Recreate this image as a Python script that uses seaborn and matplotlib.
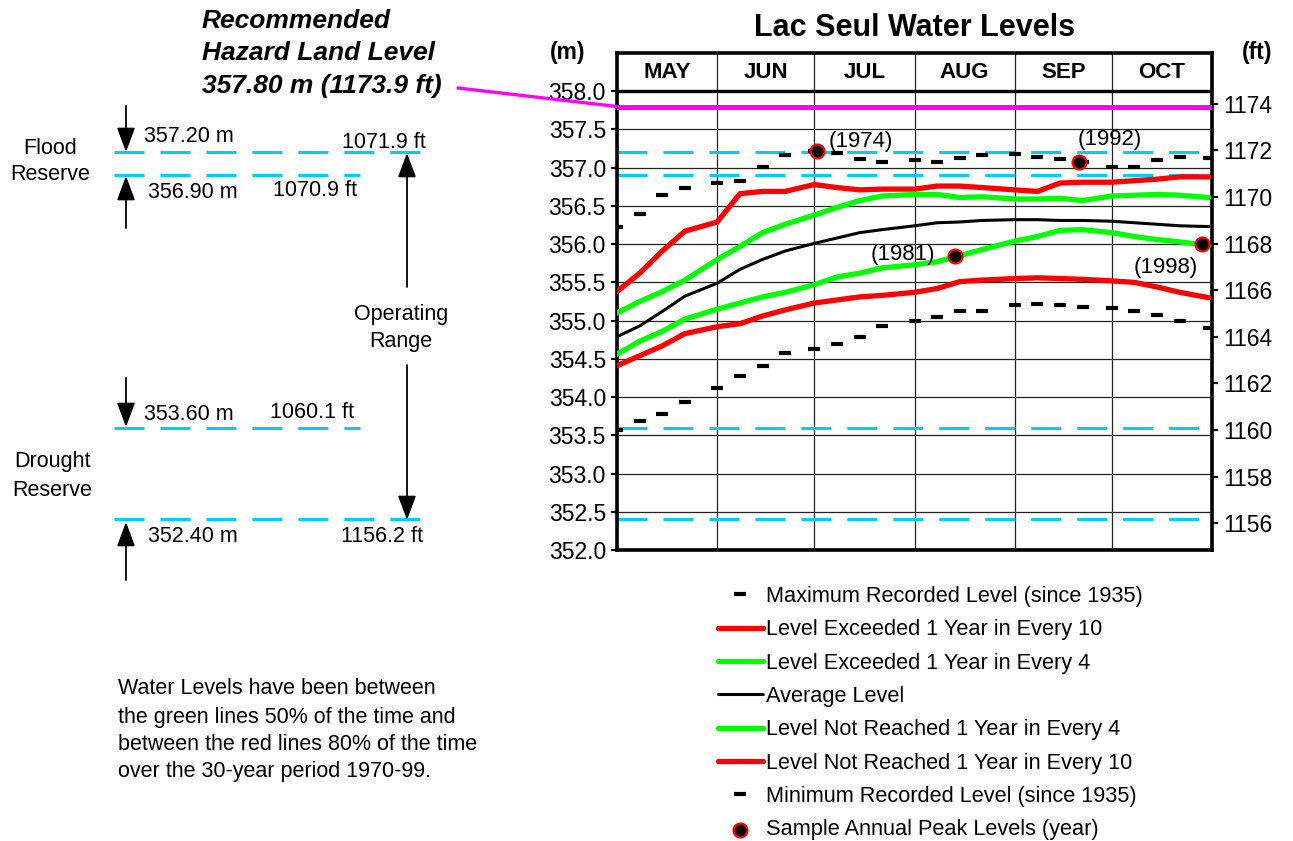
import numpy as np
import pandas as pd
import matplotlib
matplotlib.use("Agg")
import matplotlib.pyplot as plt
import matplotlib.transforms as mtransforms
import seaborn as sns

sns.set_theme(style="white")
plt.rcParams['font.family'] = ['Liberation Sans', 'DejaVu Sans']
plt.rcParams['lines.scale_dashes'] = False
plt.rcParams['text.color'] = 'black'
plt.rcParams['xtick.color'] = 'black'
plt.rcParams['ytick.color'] = 'black'

# ---- data (levels in metres, x = days after May 1) ----
months = ['MAY', 'JUN', 'JUL', 'AUG', 'SEP', 'OCT']
month_starts = [0, 31, 61, 92, 123, 153, 184]
days = [0, 7, 14, 21, 31, 38, 45, 52, 61, 68, 75, 82, 92, 99, 106, 113,
        123, 130, 137, 144, 153, 160, 167, 174, 183]

max_level = [356.23, 356.40, 356.64, 356.73, 356.80, 356.82, 357.01, 357.16,
             357.22, 357.19, 357.11, 357.07, 357.10, 357.07, 357.13, 357.16,
             357.18, 357.14, 357.12, 357.07, 357.01, 357.01, 357.10, 357.14, 357.13]
exceed_10 = [355.38, 355.62, 355.91, 356.17, 356.29, 356.66, 356.69, 356.69,
             356.78, 356.74, 356.71, 356.72, 356.72, 356.76, 356.76, 356.74,
             356.71, 356.69, 356.80, 356.81, 356.81, 356.83, 356.85, 356.88, 356.88]
exceed_4 = [355.10, 355.25, 355.38, 355.53, 355.80, 355.97, 356.15, 356.26,
            356.38, 356.48, 356.57, 356.63, 356.65, 356.65, 356.61, 356.62,
            356.59, 356.59, 356.60, 356.57, 356.63, 356.64, 356.65, 356.64, 356.61]
average = [354.79, 354.93, 355.12, 355.32, 355.49, 355.67, 355.80, 355.91,
           356.01, 356.08, 356.15, 356.19, 356.24, 356.28, 356.29, 356.31,
           356.32, 356.32, 356.31, 356.31, 356.30, 356.28, 356.26, 356.24, 356.23]
not_reached_4 = [354.56, 354.73, 354.86, 355.02, 355.15, 355.23, 355.31, 355.37,
                 355.47, 355.57, 355.62, 355.69, 355.73, 355.77, 355.85, 355.93,
                 356.04, 356.10, 356.18, 356.19, 356.15, 356.10, 356.06, 356.03, 355.98]
not_reached_10 = [354.41, 354.54, 354.67, 354.83, 354.92, 354.96, 355.06, 355.14,
                  355.23, 355.27, 355.31, 355.33, 355.37, 355.42, 355.51, 355.53,
                  355.55, 355.56, 355.55, 355.54, 355.52, 355.50, 355.44, 355.37, 355.30]
min_level = [353.57, 353.69, 353.78, 353.93, 354.12, 354.27, 354.40, 354.57,
             354.63, 354.70, 354.78, 354.93, 355.00, 355.05, 355.12, 355.13,
             355.20, 355.22, 355.21, 355.18, 355.16, 355.12, 355.07, 355.00, 354.90]

peak_days = [62, 104.5, 143, 181]
peak_levels = [357.22, 355.84, 357.07, 356.00]
peak_years = ['(1974)', '(1981)', '(1992)', '(1998)']

hazard_level = 357.80
reserve_levels = [357.20, 356.90, 353.60, 352.40]

df = pd.DataFrame({'day': days, 'max': max_level, 'exc10': exceed_10,
                   'exc4': exceed_4, 'avg': average, 'nr4': not_reached_4,
                   'nr10': not_reached_10, 'min': min_level})

RED, GREEN, CYAN, MAGENTA = '#FF0000', '#00FF00', '#00CCFF', '#FF00FF'
DASH = (0, (21.6, 11.5))
FS = 15.5

W, H = 1293, 841
fig = plt.figure(figsize=(W / 100, H / 100), dpi=100)
ax = fig.add_axes([617 / W, 1 - 550 / H, 595 / W, 497 / H])

# reference levels
ax.axhline(hazard_level, color=MAGENTA, lw=3.6, zorder=3)
for lvl in reserve_levels:
    ax.axhline(lvl, color=CYAN, lw=2.2, ls=DASH, zorder=2)

# series
handles = []
sns.lineplot(data=df, x='day', y='max', ax=ax, linestyle='', marker='_',
             markersize=9, markeredgewidth=3, markeredgecolor='black', color='black', zorder=4)
handles.append(ax.lines[-1])
for col, colr, lw in [('exc10', RED, 3.8), ('exc4', GREEN, 3.8), ('avg', 'black', 2.2),
                      ('nr4', GREEN, 3.8), ('nr10', RED, 3.8)]:
    sns.lineplot(data=df, x='day', y=col, ax=ax, color=colr, lw=lw, zorder=4)
    handles.append(ax.lines[-1])
sns.lineplot(data=df, x='day', y='min', ax=ax, linestyle='', marker='_',
             markersize=9, markeredgewidth=3, markeredgecolor='black', color='black', zorder=4)
handles.append(ax.lines[-1])
sns.scatterplot(x=peak_days, y=peak_levels, ax=ax, color='black', edgecolor=RED,
                linewidth=1.6, s=100, zorder=6)
handles.append(ax.collections[-1])

offsets = [((8, 6.5), 'left'), ((-14, 1), 'right'), ((-1, 16.5), 'left'), ((-3, -16.5), 'right')]
for d, v, yr, (off, ha) in zip(peak_days, peak_levels, peak_years, offsets):
    ax.annotate(yr, xy=(d, v), xytext=off, textcoords='offset points',
                ha=ha, va='center', fontsize=16, zorder=7)

# axes styling
ax.set_xlim(0, 184)
ax.set_ylim(352, 358.5)
ax.set_xticks(month_starts)
ax.set_xticklabels([])
yt = np.arange(352, 358.01, 0.5)
ax.set_yticks(yt)
ax.set_yticklabels([f'{v:.1f}' for v in yt])
ax.grid(True, color='#222222', lw=0.9)
ax.set_axisbelow(True)
ax.tick_params(axis='x', length=0)
ax.tick_params(axis='y', left=True, direction='out', length=4, width=1.5,
               labelsize=16.5, pad=4)
ax.set_xlabel('')
ax.set_ylabel('')
for s in ax.spines.values():
    s.set_linewidth(2.6)
    s.set_color('black')
ax.axhline(358, color='black', lw=2.4, zorder=3)
for i, m in enumerate(months):
    ax.text((month_starts[i] + month_starts[i + 1]) / 2, 358.25, m, ha='center',
            va='center', fontsize=16, fontweight='bold')
ax.set_title('Lac Seul Water Levels', fontsize=22, fontweight='bold', pad=12)

ax2 = ax.twinx()
ax2.set_ylim(352 / 0.3048, 358.5 / 0.3048)
ax2.set_yticks(range(1156, 1175, 2))
ax2.grid(False)
ax2.tick_params(axis='y', right=True, direction='out', length=4, width=1.5,
                labelsize=16.5, pad=4)
for s in ax2.spines.values():
    s.set_visible(False)

fig.text(568 / W, 1 - 53 / H, '(m)', ha='center', va='center', fontsize=16.5, fontweight='bold')
fig.text(1257 / W, 1 - 53 / H, '(ft)', ha='center', va='center', fontsize=16.5, fontweight='bold')

labels = ['Maximum Recorded Level (since 1935)', 'Level Exceeded 1 Year in Every 10',
          'Level Exceeded 1 Year in Every 4', 'Average Level',
          'Level Not Reached 1 Year in Every 4', 'Level Not Reached 1 Year in Every 10',
          'Minimum Recorded Level (since 1935)', 'Sample Annual Peak Levels (year)']
ax.legend(handles, labels, loc='upper left', bbox_to_anchor=(718 / W, 1 - 586 / H),
          bbox_transform=fig.transFigure, frameon=False, fontsize=15.7,
          handlelength=2.05, handletextpad=0.15, labelspacing=0.565,
          borderpad=0, borderaxespad=0)

# ---- left-hand explanatory diagram ----
blend = mtransforms.blended_transform_factory(fig.transFigure, ax.transData)
for lvl, x_end in zip(reserve_levels, [422, 360, 360, 422]):
    ax.plot([114 / W, x_end / W], [lvl, lvl], transform=blend, clip_on=False,
            color=CYAN, lw=2.2, ls=DASH)

ax.annotate('', xy=(0, hazard_level), xycoords='data', xytext=(458, H - 88),
            textcoords='figure pixels', annotation_clip=False,
            arrowprops=dict(arrowstyle='-', color=MAGENTA, lw=2.4, shrinkA=0, shrinkB=0))

arrows = [(126, 106, 152), (126, 228, 176), (126, 378, 427), (126, 580, 522),
          (407, 287, 153), (407, 365, 520)]
for x, y_tail, y_tip in arrows:
    ax.annotate('', xy=(x, H - y_tip), xycoords='figure pixels',
                xytext=(x, H - y_tail), textcoords='figure pixels',
                arrowprops=dict(arrowstyle='-|>,head_length=0.75,head_width=0.28',
                                color='black', lw=1.3, shrinkA=0, shrinkB=0,
                                mutation_scale=20))

hz = ['Recommended', 'Hazard Land Level', '357.80 m (1173.9 ft)']
for t, y in zip(hz, [21, 53, 86]):
    fig.text(202 / W, 1 - y / H, t, ha='left', va='center', fontsize=19,
             fontweight='bold', style='italic')

notes = [('Flood', 50, 148, 'center'), ('Reserve', 50, 175, 'center'),
         ('357.20 m', 144, 136, 'left'), ('1071.9 ft', 342, 142, 'left'),
         ('356.90 m', 148, 192, 'left'), ('1070.9 ft', 273, 190, 'left'),
         ('Operating', 401, 315, 'center'), ('Range', 401, 342, 'center'),
         ('353.60 m', 144, 415, 'left'), ('1060.1 ft', 270, 413, 'left'),
         ('Drought', 52, 462, 'center'), ('Reserve', 52, 490, 'center'),
         ('352.40 m', 148, 537, 'left'), ('1156.2 ft', 341, 537, 'left')]
for t, x, y, ha in notes:
    fig.text(x / W, 1 - y / H, t, ha=ha, va='center', fontsize=FS)

para = ['Water Levels have been between', 'the green lines 50% of the time and',
        'between the red lines 80% of the time', 'over the 30-year period 1970-99.']
for t, y in zip(para, [688, 717, 745, 772]):
    fig.text(118 / W, 1 - y / H, t, ha='left', va='center', fontsize=FS)

fig.savefig('out.png', dpi=100)
